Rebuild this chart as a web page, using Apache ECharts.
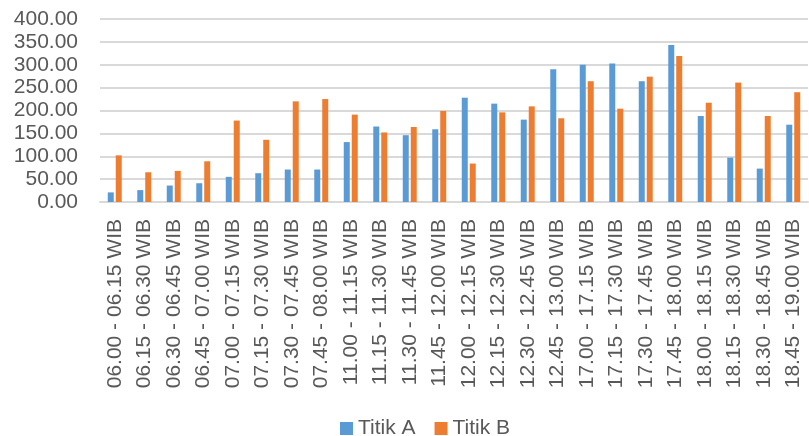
<!DOCTYPE html>
<html>
<head>
<meta charset="utf-8">
<script src="https://cdn.jsdelivr.net/npm/echarts@6/dist/echarts.min.js"></script>
<style>
  html, body { margin: 0; padding: 0; background: #fff; }
  #chart { width: 809px; height: 436px; }
</style>
</head>
<body>
<div id="chart"></div>
<script>
// Time slots (15-minute intervals)
const categories = [
  '06.00 - 06.15 WIB', '06.15 - 06.30 WIB', '06.30 - 06.45 WIB', '06.45 - 07.00 WIB',
  '07.00 - 07.15 WIB', '07.15 - 07.30 WIB', '07.30 - 07.45 WIB', '07.45 - 08.00 WIB',
  '11.00 - 11.15 WIB', '11.15 - 11.30 WIB', '11.30 - 11.45 WIB', '11.45 - 12.00 WIB',
  '12.00 - 12.15 WIB', '12.15 - 12.30 WIB', '12.30 - 12.45 WIB', '12.45 - 13.00 WIB',
  '17.00 - 17.15 WIB', '17.15 - 17.30 WIB', '17.30 - 17.45 WIB', '17.45 - 18.00 WIB',
  '18.00 - 18.15 WIB', '18.15 - 18.30 WIB', '18.30 - 18.45 WIB', '18.45 - 19.00 WIB'
];

const titikA = [21, 26, 36, 41, 55, 63, 71, 71, 131, 165, 146, 159,
                228, 215, 180, 290, 300, 303, 264, 343, 188, 97, 73, 169];

const titikB = [102, 65, 68, 89, 178, 136, 220, 225, 191, 152, 164, 199,
                84, 196, 209, 183, 264, 204, 274, 319, 217, 261, 188, 240];

const yMin = 0, yMax = 400, yStep = 50;

const FONT = 'Liberation Sans';
const TEXT = '#595959';
const GRID = '#d9d9d9';

const chart = echarts.init(document.getElementById('chart'), null, { renderer: 'canvas' });

chart.setOption({
  animation: false,
  backgroundColor: '#fff',
  grid: { left: 100, right: 1, top: 19, bottom: 234, containLabel: false },
  legend: {
    data: ['Titik A', 'Titik B'],
    left: 335,
    top: 413,
    icon: 'rect',
    itemWidth: 13,
    itemHeight: 13,
    itemGap: 19,
    textStyle: { fontFamily: FONT, fontSize: 21, color: TEXT }
  },
  xAxis: {
    type: 'category',
    data: categories,
    axisLine: { show: true, lineStyle: { color: GRID, width: 2 } },
    axisTick: { show: false },
    axisLabel: {
      rotate: 90,
      interval: 0,
      margin: 17,
      fontFamily: FONT,
      fontSize: 21,
      color: TEXT
    }
  },
  yAxis: {
    type: 'value',
    min: yMin,
    max: yMax,
    interval: yStep,
    axisLine: { show: false },
    axisTick: { show: false },
    splitLine: { lineStyle: { color: GRID, width: 2 } },
    axisLabel: {
      margin: 22,
      fontFamily: FONT,
      fontSize: 21,
      color: TEXT,
      formatter: v => v.toFixed(2)
    }
  },
  series: [
    {
      name: 'Titik A',
      type: 'bar',
      data: titikA,
      barWidth: 6,
      barGap: '33%',
      itemStyle: { color: '#5B9BD5' }
    },
    {
      name: 'Titik B',
      type: 'bar',
      data: titikB,
      barWidth: 6,
      itemStyle: { color: '#ED7D31' }
    }
  ]
});
</script>
</body>
</html>
